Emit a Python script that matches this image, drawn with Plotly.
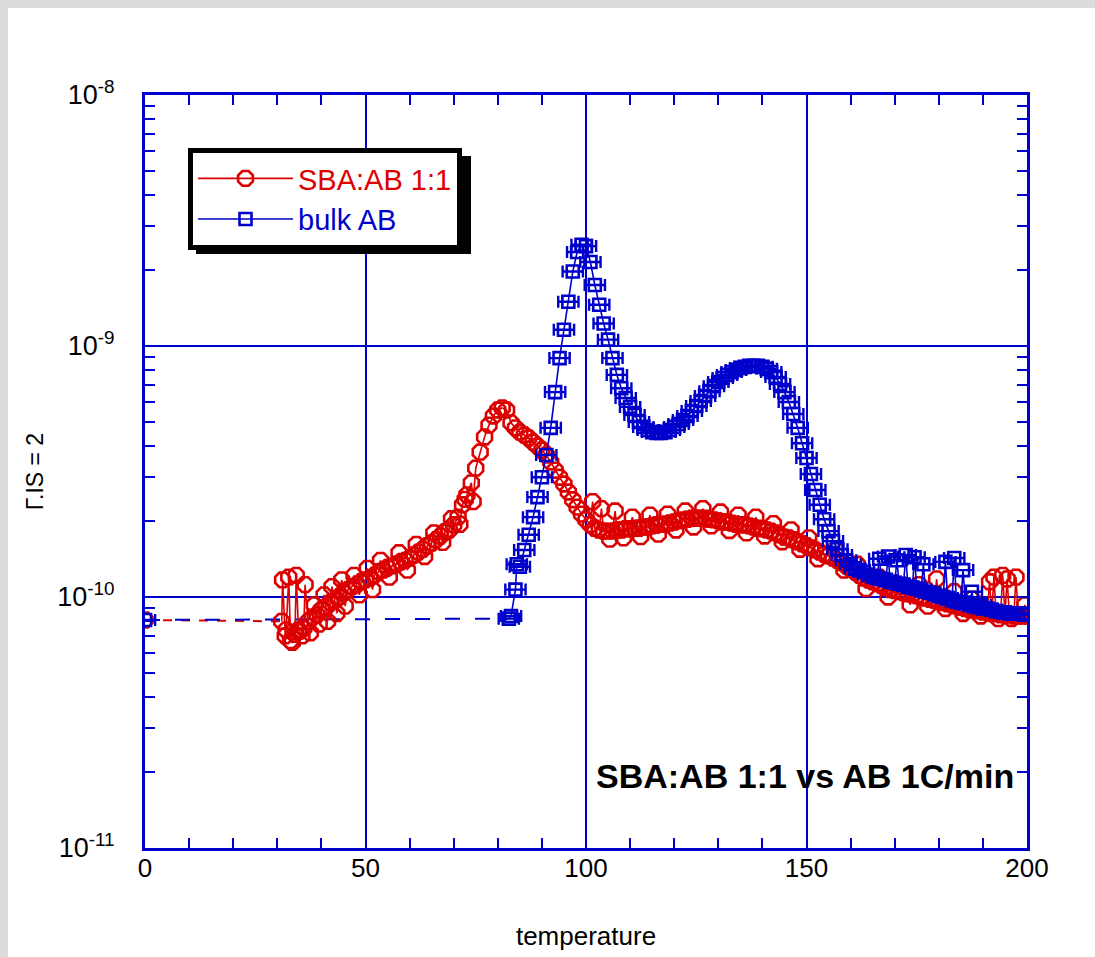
import plotly.graph_objects as go

UNIT = 1e-10
RED = "#DD0000"
BLUE = "#0000CC"
FONT = "Liberation Sans, Arial, sans-serif"

# ---- SBA:AB 1:1 (values in units of 1e-10) ----
red_t0, red_v0 = 0, 0.81
red_t = list(range(31, 201))
red_v = [0.80, 0.74, 0.67, 0.71, 0.73, 0.75, 0.80, 0.83, 0.85, 0.89,   # 31-40
         0.91, 0.95, 0.97, 1.00, 1.04, 1.07, 1.10, 1.12, 1.15, 1.17,   # 41-50
         1.19, 1.22, 1.26, 1.28, 1.31, 1.33, 1.35, 1.38, 1.40, 1.43,   # 51-60
         1.47, 1.51, 1.55, 1.60, 1.64, 1.69, 1.75, 1.82, 1.85, 1.94,   # 61-70
         2.08, 2.33, 2.55, 2.85, 3.26, 3.78, 4.34, 4.84, 5.26, 5.56,   # 71-80
         5.67, 5.56, 4.94, 4.72, 4.54, 4.42, 4.30, 4.14, 3.99, 3.85,   # 81-90
         3.68, 3.45, 3.20, 3.00, 2.82, 2.62, 2.44, 2.28, 2.14, 2.03,   # 91-100
         1.94, 1.88, 1.85, 1.83, 1.83, 1.83, 1.85, 1.85, 1.87, 1.87,   # 101-110
         1.88, 1.88, 1.90, 1.90, 1.92, 1.94, 1.95, 1.95, 1.97, 1.99,   # 111-120
         2.01, 2.03, 2.04, 2.06, 2.06, 2.06, 2.06, 2.04, 2.03, 2.01,   # 121-130
         1.99, 1.99, 1.97, 1.95, 1.94, 1.94, 1.92, 1.90, 1.88, 1.87,   # 131-140
         1.85, 1.83, 1.80, 1.77, 1.73, 1.72, 1.69, 1.66, 1.63, 1.60,   # 141-150
         1.57, 1.54, 1.51, 1.48, 1.46, 1.43, 1.40, 1.37, 1.33, 1.29,   # 151-160
         1.26, 1.22, 1.19, 1.17, 1.15, 1.13, 1.11, 1.09, 1.07, 1.06,   # 161-170
         1.05, 1.04, 1.03, 1.02, 1.01, 1.00, 0.99, 0.98, 0.97, 0.96,   # 171-180
         0.95, 0.94, 0.93, 0.92, 0.91, 0.90, 0.89, 0.89, 0.88, 0.87,   # 181-190
         0.87, 0.86, 0.86, 0.85, 0.85, 0.85, 0.84, 0.84, 0.84, 0.84]   # 191-200
red_extra_t = [31.2, 31.8, 32.6, 33.4, 34.3, 34.8, 35.6, 36.3, 37.5, 38.4, 39.5, 40.6,
               41.4, 42.4, 43.5, 44.6, 45.4, 47.4, 48.6, 50.4, 51.6, 53.4, 55.4, 57.6,
               59.5, 61.5, 63.4, 65.5, 67.5, 69.5, 71.4, 72.6, 74.4, 101.5, 103.5, 105.4,
               106.6, 108.5, 110.5, 112.4, 114.5, 116.4, 118.5, 120.4, 122.5, 124.4, 126.5,
               128.4, 130.5, 132.5, 134.5, 136.4, 138.5, 140.5, 142.5, 144.5, 146.5, 148.5,
               150.5, 152.6, 156.5, 158.5, 161.5, 163.5, 166.5, 168.5, 171.5, 173.5, 175.5,
               177.5, 179.5, 181.5, 183.5, 185.5, 187.5, 189.5, 191.5, 192.5, 193.5, 194.5,
               195.5, 196.5, 197.5, 198.5, 199.5]
red_extra_v = [1.17, 0.70, 1.20, 0.66, 1.22, 0.74, 0.70, 1.12, 0.72, 0.93, 0.78, 1.02,
               0.80, 1.10, 0.86, 1.17, 0.92, 1.22, 1.02, 1.30, 1.07, 1.40, 1.20, 1.50,
               1.28, 1.62, 1.45, 1.80, 1.65, 2.05, 1.95, 2.45, 2.40, 2.40, 2.25, 1.70,
               2.20, 1.72, 2.08, 1.74, 2.12, 1.78, 2.14, 1.85, 2.20, 1.90, 2.25,
               1.92, 2.18, 1.84, 2.12, 1.80, 2.08, 1.75, 1.96, 1.66, 1.85, 1.55,
               1.72, 1.42, 1.55, 1.28, 1.35, 1.08, 1.20, 1.00, 1.10, 0.93, 1.12,
               0.92, 1.18, 0.90, 1.05, 0.86, 0.98, 0.84, 1.15, 1.20, 0.82, 1.22,
               1.18, 0.82, 1.20, 0.85, 0.93]

# ---- bulk AB (values in units of 1e-10) ----
blue_t0, blue_v0 = 0, 0.81
blue_t = list(range(83, 201))
blue_v = [0.84, 1.07, 1.32, 1.54, 1.77, 2.08, 2.50,                     # 83-89
          3.00, 3.68, 4.72, 6.55, 8.95, 11.6, 15.0, 19.8, 23.7, 25.3,   # 90-99
          25.0, 21.6, 17.5, 14.6, 12.3, 10.6, 8.95, 7.67, 6.79, 6.21,   # 100-109
          5.72, 5.31, 4.98, 4.76, 4.63, 4.54, 4.50, 4.50, 4.54, 4.63,   # 110-119
          4.76, 4.89, 5.07, 5.26, 5.51, 5.77, 6.04, 6.32, 6.61, 6.92,   # 120-129
          7.19, 7.46, 7.67, 7.87, 8.03, 8.18, 8.26, 8.33, 8.33, 8.33,   # 130-139
          8.26, 8.11, 7.87, 7.53, 7.06, 6.55, 5.98, 5.36, 4.72, 4.10,   # 140-149
          3.58, 3.09, 2.67, 2.33, 2.04, 1.83, 1.67, 1.55, 1.47, 1.40,   # 150-159
          1.35, 1.30, 1.28, 1.26, 1.23, 1.21, 1.19, 1.18, 1.17, 1.15,   # 160-169
          1.14, 1.13, 1.12, 1.10, 1.09, 1.08, 1.07, 1.05, 1.04, 1.03,   # 170-179
          1.01, 1.00, 0.99, 0.97, 0.96, 0.95, 0.95, 0.93, 0.92, 0.91,   # 180-189
          0.90, 0.90, 0.89, 0.88, 0.87, 0.87, 0.86, 0.86, 0.86, 0.86,   # 190-199
          0.85]                                                        # 200
blue_extra_t = [82.5, 84.3, 166.5, 168.5, 170.5, 172.5, 174.5, 176.5, 181.5, 183.5,
                185.5, 187.5, 189.5]
blue_extra_v = [0.82, 1.35, 1.42, 1.45, 1.40, 1.47, 1.44, 1.35, 1.38, 1.43,
                1.28, 1.05, 0.93]

assert len(red_t) == len(red_v) and len(blue_t) == len(blue_v)


def merged(t, v, et, ev):
    pts = sorted(zip(t + et, v + ev))
    return [p[0] for p in pts], [p[1] * UNIT for p in pts]


rx, ry = merged(red_t, red_v, red_extra_t, red_extra_v)
bx, by = merged(blue_t, blue_v, blue_extra_t, blue_extra_v)

RED_MARK = dict(symbol="octagon-open", size=16, color=RED, line=dict(color=RED, width=2.6))
BLUE_MARK = dict(symbol="square-open", size=12, color=BLUE, line=dict(color=BLUE, width=2.6))
BLUE_ERR = dict(type="constant", value=2.3, color=BLUE, thickness=2.4, width=6)

fig = go.Figure()

# dashed gap segments from the 0 °C reading to the first continuous reading
fig.add_trace(go.Scatter(x=[red_t0, rx[0]], y=[red_v0 * UNIT, ry[0]], mode="lines",
                         line=dict(color=RED, width=2, dash="dash"), showlegend=False,
                         hoverinfo="skip"))
fig.add_trace(go.Scatter(x=[blue_t0, bx[0]], y=[blue_v0 * UNIT, by[0]], mode="lines",
                         line=dict(color=BLUE, width=2, dash="longdash"), showlegend=False,
                         hoverinfo="skip"))

fig.add_trace(go.Scatter(
    x=rx, y=ry, mode="lines+markers",
    name=f"<span style='color:{RED}'>SBA:AB 1:1</span>",
    line=dict(color=RED, width=1.6), marker=RED_MARK,
))
fig.add_trace(go.Scatter(
    x=bx, y=by, mode="lines+markers",
    name=f"<span style='color:{BLUE}'>bulk AB</span>",
    line=dict(color=BLUE, width=1.6), marker=BLUE_MARK, error_x=BLUE_ERR,
))
# markers at the 0 °C readings
fig.add_trace(go.Scatter(x=[red_t0], y=[red_v0 * UNIT], mode="markers", showlegend=False,
                         marker=RED_MARK))
fig.add_trace(go.Scatter(x=[blue_t0], y=[blue_v0 * UNIT], mode="markers", showlegend=False,
                         marker=BLUE_MARK, error_x=BLUE_ERR))

x_ticks = [0, 50, 100, 150, 200]
y_ticks = [1e-11, 1e-10, 1e-9, 1e-8]
y_ticktext = ["10<sup>-11</sup>", "10<sup>-10</sup>", "10<sup>-9</sup>", "10<sup>-8</sup>"]
y_minor = [m * 10.0 ** e for e in (-11, -10, -9) for m in range(2, 10)]

W, H = 1095, 957
L, R, T, B = 145, 68, 95, 109
pw, ph = W - L - R, H - T - B


def px(xp):
    return (xp - L) / pw


def py(yp):
    return (H - B - yp) / ph


GRAY = "#DCDCDC"
shapes = [
    dict(type="rect", xref="paper", yref="paper", x0=px(0), x1=px(8), y0=py(H), y1=py(0),
         fillcolor=GRAY, line=dict(width=0), layer="below"),
    dict(type="rect", xref="paper", yref="paper", x0=px(0), x1=px(W), y0=py(8), y1=py(0),
         fillcolor=GRAY, line=dict(width=0), layer="below"),
    # legend drop shadow
    dict(type="rect", xref="paper", yref="paper", x0=px(196), x1=px(471), y0=py(254), y1=py(156),
         fillcolor="black", line=dict(width=0), layer="above"),
]

fig.update_layout(
    width=W, height=H, autosize=False,
    margin=dict(l=L, r=R, t=T, b=B),
    paper_bgcolor="white", plot_bgcolor="white",
    font=dict(family=FONT, size=26, color="black"),
    showlegend=True,
    legend=dict(x=px(188), y=py(148), xanchor="left", yanchor="top",
                bgcolor="white", bordercolor="black", borderwidth=5,
                font=dict(family=FONT, size=29), itemwidth=95,
                tracegroupgap=0),
    shapes=shapes,
    annotations=[dict(text="<b>SBA:AB 1:1 vs AB 1C/min</b>", xref="paper", yref="paper",
                      x=px(1016), y=py(776), xanchor="right", yanchor="middle",
                      showarrow=False, font=dict(family=FONT, size=34, color="black"))],
    xaxis=dict(range=[0, 200], tickvals=x_ticks, ticks="inside", ticklen=10, tickwidth=2,
               tickcolor=BLUE, showline=True, linecolor=BLUE, linewidth=3, mirror="ticks",
               showgrid=True, gridcolor=BLUE, gridwidth=2, zeroline=False,
               minor=dict(dtick=10, ticks="inside", ticklen=10, tickwidth=2, tickcolor=BLUE,
                          showgrid=False),
               tickfont=dict(size=26), ticklabelstandoff=-5,
               title=dict(text="temperature", font=dict(size=26), standoff=45)),
    yaxis=dict(type="log", range=[-11, -8], tickvals=y_ticks, ticktext=y_ticktext,
               ticks="inside", ticklen=10, tickwidth=2, tickcolor=BLUE,
               showline=True, linecolor=BLUE, linewidth=3, mirror="ticks",
               showgrid=True, gridcolor=BLUE, gridwidth=2, zeroline=False,
               minor=dict(tickvals=y_minor, ticks="inside", ticklen=10, tickwidth=2,
                          tickcolor=BLUE, showgrid=False),
               tickfont=dict(size=27), ticklabelstandoff=22,
               title=dict(text="Γ.ΙS = 2", font=dict(size=23), standoff=8)),
)

fig.write_html("out.html")
